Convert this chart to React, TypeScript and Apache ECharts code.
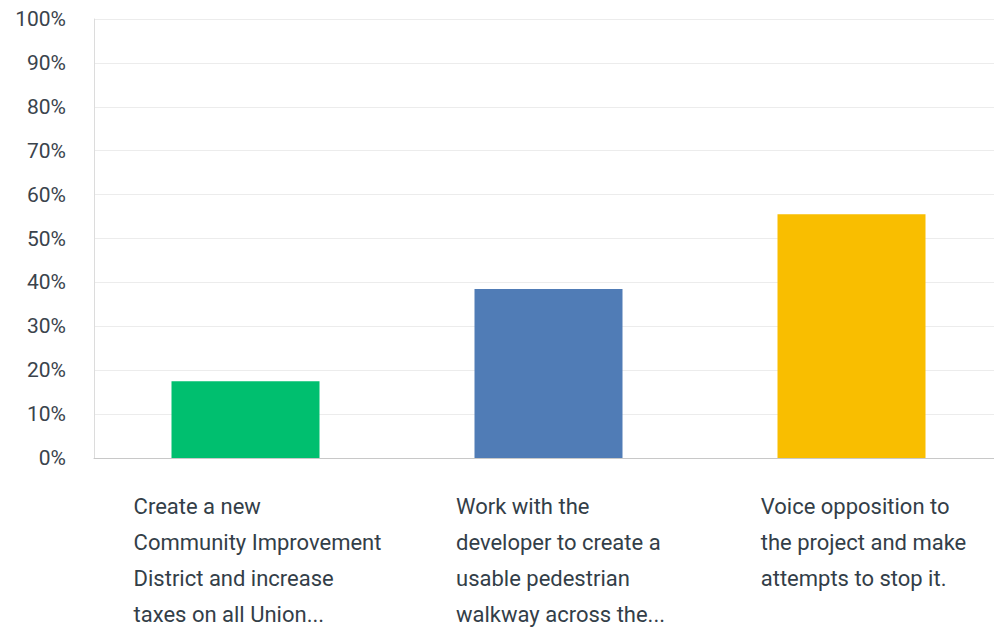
import React, { useEffect, useRef } from "react";
import * as echarts from "echarts";

const categories = [
  "Create a new\nCommunity Improvement\nDistrict and increase\ntaxes on all Union...",
  "Work with the\ndeveloper to create a\nusable pedestrian\nwalkway across the...",
  "Voice opposition to\nthe project and make\nattempts to stop it.",
];
const values = [17.5, 38.5, 55.5];
const colors = ["#00bf6f", "#507cb6", "#f9be00"];
const yTicks = [0, 10, 20, 30, 40, 50, 60, 70, 80, 90, 100];

export default function App() {
  const ref = useRef<HTMLDivElement>(null);
  useEffect(() => {
    const chart = echarts.init(ref.current!, null, { renderer: "svg" });
    chart.setOption({
      animation: false,
      grid: {
        left: 94,
        right: -9,
        top: 19,
        bottom: 169,
        containLabel: false,
        outerBoundsMode: "none",
      },
      xAxis: {
        type: "category",
        data: categories,
        axisLine: { lineStyle: { color: "#c8c8c8", width: 1 } },
        axisTick: { show: false },
        axisLabel: {
          interval: 0,
          margin: 30,
          align: "center",
          verticalAlign: "top",
          padding: [0, 0, 0, 24],
          formatter: (v: string) =>
            v
              .split("\n")
              .map((l) => `{t|${l}}`)
              .join("\n"),
          rich: {
            t: {
              fontFamily: "Roboto",
              fontSize: 22,
              lineHeight: 36,
              color: "#333e48",
              align: "left",
            },
          },
        },
      },
      yAxis: {
        type: "value",
        min: 0,
        max: 100,
        interval: 10,
        axisLine: { show: true, lineStyle: { color: "#dcdcdc" } },
        axisTick: { show: false },
        splitLine: { lineStyle: { color: "#ececec" } },
        axisLabel: {
          margin: 28,
          fontFamily: "Roboto",
          fontSize: 21,
          color: "#3a434c",
          formatter: (v: number) => (yTicks.includes(v) ? v + "%" : ""),
        },
      },
      series: [
        {
          type: "bar",
          barWidth: 148,
          data: values.map((v, i) => ({ value: v, itemStyle: { color: colors[i] } })),
        },
      ],
    });
    return () => chart.dispose();
  }, []);
  return (
    <div
      ref={ref}
      style={{ position: "absolute", left: 0, top: 0, width: 994, height: 627 }}
    />
  );
}
